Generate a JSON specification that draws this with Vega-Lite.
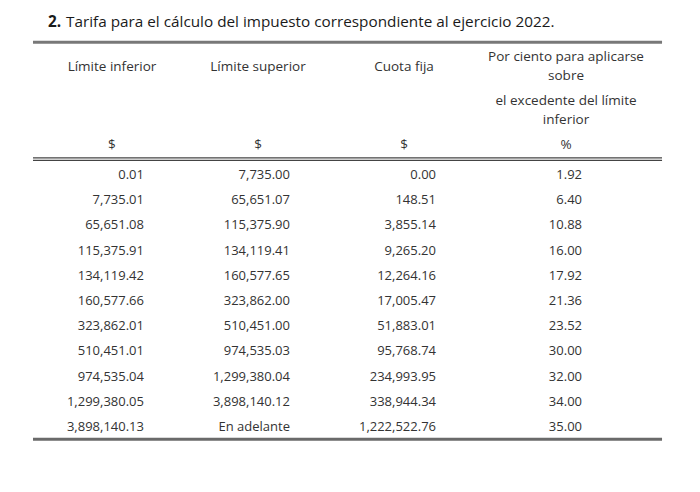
{
  "$schema": "https://vega.github.io/schema/vega-lite/v6.json",
  "width": 700,
  "height": 492,
  "autosize": "none",
  "padding": 0,
  "background": "white",
  "config": {"view": {"stroke": null}, "text": {"font": "Open Sans", "fontSize": 13, "color": "#333333", "baseline": "middle"}},
  "datasets": {
    "tarifa": [
      {"fila": 0, "inferior": "0.01", "superior": "7,735.00", "cuota": "0.00", "porciento": "1.92"},
      {"fila": 1, "inferior": "7,735.01", "superior": "65,651.07", "cuota": "148.51", "porciento": "6.40"},
      {"fila": 2, "inferior": "65,651.08", "superior": "115,375.90", "cuota": "3,855.14", "porciento": "10.88"},
      {"fila": 3, "inferior": "115,375.91", "superior": "134,119.41", "cuota": "9,265.20", "porciento": "16.00"},
      {"fila": 4, "inferior": "134,119.42", "superior": "160,577.65", "cuota": "12,264.16", "porciento": "17.92"},
      {"fila": 5, "inferior": "160,577.66", "superior": "323,862.00", "cuota": "17,005.47", "porciento": "21.36"},
      {"fila": 6, "inferior": "323,862.01", "superior": "510,451.00", "cuota": "51,883.01", "porciento": "23.52"},
      {"fila": 7, "inferior": "510,451.01", "superior": "974,535.03", "cuota": "95,768.74", "porciento": "30.00"},
      {"fila": 8, "inferior": "974,535.04", "superior": "1,299,380.04", "cuota": "234,993.95", "porciento": "32.00"},
      {"fila": 9, "inferior": "1,299,380.05", "superior": "3,898,140.12", "cuota": "338,944.34", "porciento": "34.00"},
      {"fila": 10, "inferior": "3,898,140.13", "superior": "En adelante", "cuota": "1,222,522.76", "porciento": "35.00"}
    ],
    "encabezado": [
      {"columna": 0, "nivel": "nombre", "texto": "Límite inferior"},
      {"columna": 1, "nivel": "nombre", "texto": "Límite superior"},
      {"columna": 2, "nivel": "nombre", "texto": "Cuota fija"},
      {"columna": 3, "nivel": "nombre", "texto": ["Por ciento para aplicarse", "sobre"]},
      {"columna": 3, "nivel": "nota", "texto": ["el excedente del límite", "inferior"]},
      {"columna": 0, "nivel": "unidad", "texto": "$"},
      {"columna": 1, "nivel": "unidad", "texto": "$"},
      {"columna": 2, "nivel": "unidad", "texto": "$"},
      {"columna": 3, "nivel": "unidad", "texto": "%"}
    ],
    "uno": [{}]
  },
  "layer": [
    {
      "data": {"name": "uno"},
      "mark": {"type": "text", "align": "left", "fontWeight": "bold", "fontSize": 15.3, "color": "#1a1a1a", "text": "2."},
      "encoding": {
        "x": {"datum": -0.657, "type": "quantitative", "scale": {"domain": [-0.986, 3.808], "nice": false, "zero": false}, "axis": null},
        "y": {"datum": -6.071, "type": "quantitative", "scale": {"domain": [-6.944, 12.579], "reverse": true, "nice": false, "zero": false}, "axis": null}
      }
    },
    {
      "data": {"name": "uno"},
      "mark": {"type": "text", "align": "left", "fontSize": 15.3, "color": "#1a1a1a", "dx": 18, "text": "Tarifa para el cálculo del impuesto correspondiente al ejercicio 2022."},
      "encoding": {
        "x": {"datum": -0.657, "type": "quantitative"},
        "y": {"datum": -6.071, "type": "quantitative"}
      }
    },
    {
      "data": {"name": "uno"},
      "mark": {"type": "rule", "color": "#787878", "strokeWidth": 3},
      "encoding": {
        "x": {"datum": -0.76, "type": "quantitative"},
        "x2": {"datum": 3.548},
        "y": {"datum": -5.27, "type": "quantitative"}
      }
    },
    {
      "data": {"name": "uno"},
      "mark": {"type": "rule", "color": "#444444", "strokeWidth": 1.3},
      "encoding": {
        "x": {"datum": -0.76, "type": "quantitative"},
        "x2": {"datum": 3.548},
        "y": {"datum": -0.683, "type": "quantitative"}
      }
    },
    {
      "data": {"name": "uno"},
      "mark": {"type": "rule", "color": "#444444", "strokeWidth": 1.3},
      "encoding": {
        "x": {"datum": -0.76, "type": "quantitative"},
        "x2": {"datum": 3.548},
        "y": {"datum": -0.583, "type": "quantitative"}
      }
    },
    {
      "data": {"name": "uno"},
      "mark": {"type": "rule", "color": "#6a6a6a", "strokeWidth": 3},
      "encoding": {
        "x": {"datum": -0.76, "type": "quantitative"},
        "x2": {"datum": 3.548},
        "y": {"datum": 10.484, "type": "quantitative"}
      }
    },
    {
      "data": {"name": "encabezado"},
      "transform": [{"filter": "datum.nivel == 'nombre' && datum.columna < 3"}],
      "mark": {"type": "text", "align": "center", "dx": -32, "fontSize": 13.5},
      "encoding": {
        "x": {"field": "columna", "type": "quantitative"},
        "y": {"datum": -4.286, "type": "quantitative"},
        "text": {"field": "texto"}
      }
    },
    {
      "data": {"name": "encabezado"},
      "transform": [{"filter": "datum.nivel == 'nombre' && datum.columna == 3"}],
      "mark": {"type": "text", "align": "center", "dx": -16, "lineHeight": 19, "fontSize": 13.5},
      "encoding": {
        "x": {"field": "columna", "type": "quantitative"},
        "y": {"datum": -4.683, "type": "quantitative"},
        "text": {"field": "texto"}
      }
    },
    {
      "data": {"name": "encabezado"},
      "transform": [{"filter": "datum.nivel == 'nota'"}],
      "mark": {"type": "text", "align": "center", "dx": -16, "lineHeight": 19, "fontSize": 13.5},
      "encoding": {
        "x": {"field": "columna", "type": "quantitative"},
        "y": {"datum": -2.937, "type": "quantitative"},
        "text": {"field": "texto"}
      }
    },
    {
      "data": {"name": "encabezado"},
      "transform": [{"filter": "datum.nivel == 'unidad' && datum.columna < 3"}],
      "mark": {"type": "text", "align": "center", "dx": -32, "fontSize": 13.5},
      "encoding": {
        "x": {"field": "columna", "type": "quantitative"},
        "y": {"datum": -1.19, "type": "quantitative"},
        "text": {"field": "texto"}
      }
    },
    {
      "data": {"name": "encabezado"},
      "transform": [{"filter": "datum.nivel == 'unidad' && datum.columna == 3"}],
      "mark": {"type": "text", "align": "center", "dx": -16, "fontSize": 13.5},
      "encoding": {
        "x": {"field": "columna", "type": "quantitative"},
        "y": {"datum": -1.19, "type": "quantitative"},
        "text": {"field": "texto"}
      }
    },
    {
      "data": {"name": "tarifa"},
      "mark": {"type": "text", "align": "right"},
      "encoding": {
        "x": {"datum": 0, "type": "quantitative"},
        "y": {"field": "fila", "type": "quantitative"},
        "text": {"field": "inferior"}
      }
    },
    {
      "data": {"name": "tarifa"},
      "mark": {"type": "text", "align": "right"},
      "encoding": {
        "x": {"datum": 1, "type": "quantitative"},
        "y": {"field": "fila", "type": "quantitative"},
        "text": {"field": "superior"}
      }
    },
    {
      "data": {"name": "tarifa"},
      "mark": {"type": "text", "align": "right"},
      "encoding": {
        "x": {"datum": 2, "type": "quantitative"},
        "y": {"field": "fila", "type": "quantitative"},
        "text": {"field": "cuota"}
      }
    },
    {
      "data": {"name": "tarifa"},
      "mark": {"type": "text", "align": "right"},
      "encoding": {
        "x": {"datum": 3, "type": "quantitative"},
        "y": {"field": "fila", "type": "quantitative"},
        "text": {"field": "porciento"}
      }
    }
  ]
}
